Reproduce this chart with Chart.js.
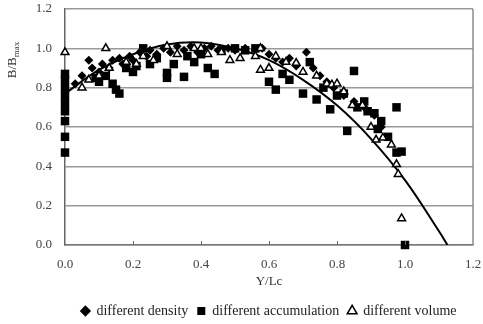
<!DOCTYPE html>
<html><head><meta charset="utf-8">
<script src="https://cdn.jsdelivr.net/npm/chart.js@4/dist/chart.umd.min.js"></script>
<style>html,body{margin:0;padding:0;background:#fff}</style>
</head><body>
<canvas id="c" width="483" height="324"></canvas>
<script>
// ---- data ----
const densityX = [0.03,0.05,0.07,0.08,0.10,0.11,0.13,0.14,0.16,0.17,0.19,0.20,0.22,0.24,0.25,0.27,0.29,0.31,0.33,0.35,0.37,0.39,0.41,0.43,0.45,0.48,0.50,0.53,0.56,0.58,0.60,0.62,0.64,0.66,0.68,0.71,0.73,0.75,0.77,0.79,0.82,0.85,0.88,0.91,0.93];
const densityY = [0.82,0.86,0.94,0.90,0.88,0.92,0.90,0.94,0.95,0.92,0.96,0.94,0.98,0.96,0.99,0.97,1.00,0.98,1.01,0.99,1.01,0.98,1.00,1.01,0.99,1.00,0.99,1.00,0.99,1.00,0.97,0.95,0.93,0.95,0.91,0.98,0.90,0.86,0.83,0.80,0.76,0.73,0.70,0.66,0.60];

const accumX = [0,0,0,0,0,0,0,0,0,0.09,0.10,0.12,0.14,0.15,0.16,0.18,0.20,0.21,0.23,0.25,0.27,0.30,0.30,0.32,0.35,0.36,0.38,0.40,0.42,0.44,0.46,0.50,0.53,0.56,0.60,0.62,0.64,0.66,0.70,0.72,0.74,0.76,0.78,0.80,0.82,0.83,0.85,0.86,0.88,0.89,0.91,0.92,0.93,0.95,0.975,0.975,0.99,1.00];
const accumY = [0.47,0.55,0.63,0.68,0.72,0.76,0.80,0.84,0.87,0.85,0.83,0.86,0.82,0.79,0.77,0.90,0.88,0.91,1.00,0.92,0.95,0.875,0.85,0.92,0.855,0.96,0.93,0.97,0.90,0.87,0.99,1.00,0.99,1.00,0.83,0.79,0.87,0.84,0.77,0.93,0.74,0.80,0.69,0.76,0.77,0.58,0.885,0.70,0.73,0.68,0.67,0.59,0.63,0.55,0.70,0.47,0.475,0.00];

const volumeX = [0,0.05,0.07,0.10,0.12,0.13,0.18,0.21,0.23,0.26,0.30,0.33,0.38,0.40,0.42,0.46,0.485,0.515,0.56,0.575,0.575,0.60,0.62,0.65,0.68,0.70,0.74,0.77,0.785,0.80,0.82,0.845,0.875,0.90,0.915,0.935,0.96,0.975,0.98,0.99];
const volumeY = [0.98,0.80,0.84,0.86,1.00,0.90,0.93,0.92,0.96,0.94,1.01,0.97,1.00,1.00,0.97,0.98,0.94,0.95,0.96,1.00,0.89,0.90,0.96,0.93,0.925,0.88,0.86,0.82,0.815,0.82,0.78,0.71,0.71,0.60,0.535,0.545,0.51,0.41,0.36,0.135];

const fitX = [0,0.1,0.2,0.3,0.4,0.5,0.6,0.7,0.8,0.9,1.0,1.1,1.125];
const fitY = [0.77,0.89,0.97,1.02,1.03,1.00,0.94,0.84,0.71,0.54,0.33,0.07,0.00];

const xTicks = [0,0.2,0.4,0.6,0.8,1.0,1.2];
const yTicks = [0,0.2,0.4,0.6,0.8,1.0,1.2];
const seriesNames = ['different density','different accumulation','different volume'];
// ----------------------------------------------

const pts = (xs, ys) => xs.map((x, i) => ({x: x, y: ys[i]}));
const FONT = '"Liberation Serif", "Times New Roman", serif';

const frame = {
  id: 'frame',
  afterDraw(chart) {
    const {ctx, chartArea: a, scales} = chart;
    ctx.save();
    ctx.strokeStyle = '#8c8c8c';
    ctx.lineWidth = 1.5;
    ctx.beginPath();
    ctx.moveTo(a.right, a.top); ctx.lineTo(a.right, a.bottom);
    ctx.stroke();
    ctx.strokeStyle = '#666';
    ctx.lineWidth = 1;
    xTicks.slice(1, -1).forEach(v => {
      const px = Math.round(scales.x.getPixelForValue(v)) + 0.5;
      ctx.beginPath(); ctx.moveTo(px, a.bottom); ctx.lineTo(px, a.bottom - 4); ctx.stroke();
    });
    ctx.translate(13, 60);
    ctx.rotate(-Math.PI / 2);
    ctx.fillStyle = '#333';
    ctx.textBaseline = 'middle';
    ctx.font = '13px ' + FONT;
    const w1 = ctx.measureText('B/B').width;
    ctx.font = '9px ' + FONT;
    const w2 = ctx.measureText('max').width;
    const start = -(w1 + w2) / 2;
    ctx.font = '13px ' + FONT;
    ctx.fillText('B/B', start, 0);
    ctx.font = '9px ' + FONT;
    ctx.fillText('max', start + w1, 4);
    ctx.restore();
  }
};

new Chart(document.getElementById('c'), {
  type: 'scatter',
  data: {
    datasets: [
      {label: 'fit', data: pts(fitX, fitY), type: 'line', showLine: true, tension: 0.4,
       borderColor: '#000', borderWidth: 2, pointRadius: 0, fill: false, order: 4},
      {label: seriesNames[0], data: pts(densityX, densityY), pointStyle: 'rectRot', clip: false,
       pointRadius: 4.5, backgroundColor: '#000', borderColor: '#000', borderWidth: 0, order: 3},
      {label: seriesNames[1], data: pts(accumX, accumY), pointStyle: 'rect', clip: false,
       pointRadius: 6, backgroundColor: '#000', borderColor: '#000', borderWidth: 0, order: 2},
      {label: seriesNames[2], data: pts(volumeX, volumeY), pointStyle: 'triangle', clip: false,
       pointRadius: 4.5, backgroundColor: '#fff', borderColor: '#000', borderWidth: 1.5, order: 1}
    ]
  },
  options: {
    responsive: false,
    animation: false,
    layout: {autoPadding: false, padding: {left: 0, right: 10, top: 9, bottom: -4}},
    plugins: {
      tooltip: {enabled: false},
      legend: {
        position: 'bottom',
        fullSize: false,
        labels: {
          filter: item => item.text !== 'fit',
          sort: (a, b) => a.datasetIndex - b.datasetIndex,
          usePointStyle: true,
          boxWidth: 8, boxHeight: 8,
          padding: 9,
          color: '#222',
          font: {family: FONT, size: 14}
        }
      }
    },
    scales: {
      x: {
        type: 'linear', min: 0, max: 1.2,
        afterBuildTicks: s => { s.ticks = xTicks.map(v => ({value: v})); },
        afterFit: s => { s.height = 50; s.paddingRight = 0; s.paddingLeft = 0; },
        ticks: {callback: v => v.toFixed(1), color: '#444', font: {family: FONT, size: 13}, padding: 12, maxRotation: 0},
        grid: {display: false, drawTicks: false},
        border: {display: true, color: '#777', width: 1.5},
        title: {display: true, text: 'Y/Lc', color: '#333', font: {family: FONT, size: 13}, padding: {top: 0, bottom: 6}}
      },
      y: {
        type: 'linear', min: 0, max: 1.2,
        afterBuildTicks: s => { s.ticks = yTicks.map(v => ({value: v})); },
        afterFit: s => { s.width = 65; s.paddingTop = 0; },
        ticks: {callback: v => v.toFixed(1), color: '#444', font: {family: FONT, size: 13}, padding: 13},
        grid: {color: '#999', lineWidth: 1.5, drawTicks: false},
        border: {display: true, color: '#666', width: 1.5}
      }
    }
  },
  plugins: [frame]
});
</script>
</body></html>
